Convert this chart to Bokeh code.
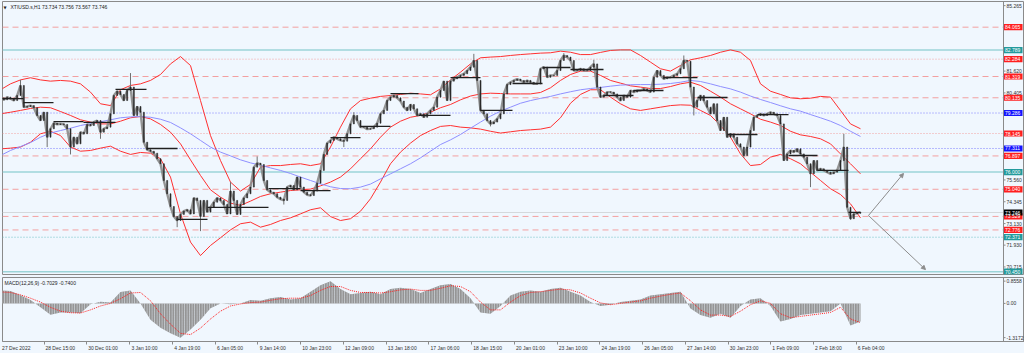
import numpy as np
from bokeh.plotting import figure
from bokeh.layouts import column
from bokeh.models import (Range1d, FixedTicker, Span, Label, Arrow, NormalHead,
                          LinearAxis)
from bokeh.core.properties import value
from bokeh.embed import file_html
from bokeh.resources import INLINE

# ---------------- data ----------------
closes_part1 = [
    80.13, 80.02, 80.17, 80.08, 79.98, 80.26, 80.82, 79.61, 79.65, 79.70,
    79.58, 79.15, 78.87, 79.33, 77.94, 78.41, 78.72, 78.65, 78.68, 78.65,
    78.41, 77.39, 77.94, 77.57, 78.22, 78.13, 78.65, 78.59, 78.78, 78.87,
    78.22, 78.41, 78.50, 79.24, 80.26, 80.50, 80.32, 79.98, 80.54, 80.73,
    79.15, 79.65, 79.33, 77.66, 77.24, 77.16, 77.05, 76.74, 76.46, 75.53,
    74.79, 74.08, 73.52, 73.30, 73.64, 73.82, 73.90, 73.67, 74.56, 74.42,
    73.52, 74.42, 73.77, 74.04, 74.32, 74.56, 74.42, 74.19, 73.67, 74.94,
    74.42, 73.64, 74.19, 74.56, 74.79, 75.16, 76.27, 76.49, 76.42, 75.53,
    75.01, 74.88, 74.79, 74.60, 74.49, 74.42, 75.16, 75.25, 75.01, 75.72,
    75.16, 74.88, 74.73, 74.69, 74.94, 75.38, 76.09, 76.98, 77.61, 77.76,
    77.94, 77.85, 77.76, 77.72, 78.13, 78.68, 79.15, 78.87, 78.50, 78.50,
    78.39, 78.41, 78.50, 78.72, 79.24, 79.43, 79.98, 80.17, 80.26, 80.13,
    79.95, 79.61, 79.43, 79.76, 79.52, 79.15, 79.24, 79.05, 79.24, 79.43]
closes_part2 = [
    79.61, 80.17, 80.54, 81.06, 79.98, 81.06, 81.19, 81.28, 81.38, 81.47,
    81.65, 81.84, 82.21, 81.10, 79.43, 79.24, 78.87, 78.68, 78.78, 78.96,
    79.24, 80.35, 80.87, 81.00, 81.10, 81.17, 81.10, 81.00, 81.10, 81.00,
    80.91, 80.91, 81.75, 81.84, 81.28, 81.38, 81.38, 81.65, 82.21, 82.49,
    82.40, 82.21, 81.65, 81.65, 81.75, 81.65, 81.65, 81.84, 82.02, 80.73,
    80.17, 80.26, 80.45, 80.45, 80.35, 80.17, 79.98, 80.26, 80.17, 80.54,
    80.45, 80.54, 80.54, 80.63, 80.54, 80.45, 81.28, 81.65, 81.38, 81.19,
    81.28, 81.28, 81.38, 81.47, 81.75, 82.21, 82.17, 80.73, 79.61, 79.98,
    80.26, 79.98, 79.61, 79.24, 79.80, 78.87, 78.31, 79.05, 77.94, 78.13,
    77.94, 77.57, 77.39, 76.92, 77.39, 78.31, 79.05, 79.15, 79.24, 79.15,
    79.24, 79.33, 79.24, 79.15, 78.68, 76.64, 77.01, 77.20, 77.11, 77.29,
    77.01, 76.83, 76.46, 75.90, 76.64, 76.09, 76.18, 76.09, 75.99, 75.90,
    75.99, 76.09, 76.64, 77.39, 74.04, 73.40, 73.67, 73.71, 73.75]

wick_sample = [6, 14, 21, 30, 39, 53, 60, 69, 77, 85, 103, 106, 142, 147,
               169, 178, 205, 208, 223, 243, 253, 255]
wick_price = [81.13, 77.39, 76.98, 77.85, 81.51, 72.93, 72.71, 75.44, 76.87,
              74.19, 77.39, 79.33, 82.58, 78.54, 82.62, 82.25, 82.49, 79.15,
              76.79, 75.16, 78.13, 73.34]

bb_upper = [
    80.58, 80.91, 81.13, 81.25, 81.13, 81.06, 81.10, 81.06, 80.91, 80.45,
    79.80, 79.70, 80.58, 80.82, 80.91, 81.10, 81.43, 82.02, 82.43, 81.93,
    79.98, 78.03, 76.64, 75.44, 74.94, 75.31, 76.27, 76.36, 76.36, 76.42,
    76.46, 76.36, 76.46, 77.39, 78.50, 79.52, 79.98, 80.11, 80.21, 80.26,
    80.32, 80.39, 80.35, 80.30,
    80.63, 81.13, 81.56, 82.02, 82.36, 82.40, 82.43, 82.49, 82.54, 82.58,
    82.62, 82.64, 82.73, 82.67, 82.54, 82.54, 82.66, 82.77, 82.80, 82.80,
    82.49, 82.12, 81.75, 81.62, 81.93, 82.25, 82.36, 82.49, 82.67, 82.80,
    82.67, 82.21, 80.91, 80.50, 80.32, 80.13, 80.08, 80.11, 80.21, 80.17,
    79.43, 78.68, 78.41]
bb_middle = [
    79.24, 79.33, 79.43, 79.54, 79.61, 79.58, 79.37, 79.15, 78.91, 78.78,
    78.68, 78.68, 78.83, 79.02, 79.09, 78.96, 78.65, 78.22, 77.57, 76.68,
    75.81, 75.01, 74.60, 74.27, 74.14, 74.38, 74.64, 74.79, 74.88, 74.97,
    75.01, 75.05, 75.23, 75.44, 75.72, 76.18, 76.74, 77.29, 77.94, 78.50,
    78.83, 79.05, 79.15, 79.33,
    79.58, 79.76, 80.02, 80.23, 80.35, 80.39, 80.37, 80.35, 80.35, 80.35,
    80.43, 80.69, 81.10, 81.43, 81.62, 81.62, 81.38, 81.10, 80.95, 80.80,
    80.73, 80.65, 80.65, 80.76, 80.91, 81.00, 80.82, 80.50, 80.17, 79.80,
    79.52, 79.24, 78.94, 78.78, 78.59, 78.27, 78.07, 77.98, 77.85, 77.57,
    77.01, 76.46, 75.90]
bb_lower = [
    77.29, 77.33, 77.39, 77.66, 78.13, 78.27, 78.03, 77.39, 77.16, 77.20,
    77.33, 77.44, 77.16, 76.98, 77.09, 77.05, 76.74, 75.72, 73.67, 72.10,
    71.35, 71.91, 72.34, 72.78, 73.12, 73.21, 72.93, 73.08, 73.30, 73.45,
    73.67, 73.90, 74.01, 73.52, 73.30, 73.40, 73.82, 74.51, 75.44, 76.46,
    77.11, 77.61, 78.03, 78.31,
    78.54, 78.59, 78.50, 78.46, 78.39, 78.27, 78.17, 78.24, 78.31, 78.35,
    78.39, 78.50, 79.02, 79.83, 80.32, 80.58, 80.58, 80.17, 79.80, 79.52,
    79.43, 79.52, 79.61, 79.70, 79.74, 79.72, 79.43, 79.15, 78.59, 77.94,
    77.01, 76.36, 76.42, 76.83, 76.98, 76.74, 76.46, 75.99, 75.53, 75.07,
    74.75, 74.23, 73.45]
ma_slow = [
    76.92, 77.20, 77.42, 77.64, 77.94, 78.17, 78.31, 78.44, 78.59, 78.70,
    78.80, 78.91, 79.02, 79.07, 79.09, 79.05, 78.94, 78.76, 78.46, 78.13,
    77.76, 77.39, 77.11, 76.90, 76.68, 76.51, 76.38, 76.23, 76.09, 75.92,
    75.72, 75.53, 75.34, 75.18, 75.08, 75.07, 75.16, 75.33, 75.62, 75.90,
    76.18, 76.46, 76.79, 77.16,
    77.53, 77.79, 78.09, 78.44, 78.78, 79.11, 79.39, 79.61, 79.83, 79.98,
    80.10, 80.21, 80.35, 80.47, 80.58, 80.65, 80.71, 80.78, 80.84, 80.86,
    80.87, 80.87, 80.89, 80.93, 81.00, 81.10, 81.04, 80.91, 80.76, 80.63,
    80.45, 80.23, 80.04, 79.87, 79.69, 79.52, 79.39, 79.20, 79.02, 78.83,
    78.59, 78.27, 77.98]
macd_hist = [
    0.50, 0.48, 0.31, 0.13, -0.15, -0.44, -0.35, -0.35, -0.38, -0.03,
    0.06, 0.03, 0.44, 0.50, 0.00, -0.63, -0.94, -1.15, -1.3172, -1.00,
    -0.63, -0.19, 0.00, -0.03, 0.00, 0.13, 0.10, 0.20, 0.25, 0.15,
    0.20, 0.45, 0.70, 0.8558, 0.55, 0.35, 0.40, 0.45, 0.35, 0.55,
    0.60, 0.55, 0.40, 0.55, 0.70, 0.75, 0.55, 0.20, -0.35, -0.40,
    -0.10, 0.30, 0.45, 0.50, 0.45, 0.55, 0.60, 0.45, 0.30, 0.05,
    -0.10, -0.05, 0.05, 0.10, 0.15, 0.30, 0.35, 0.40, 0.45, -0.20,
    -0.45, -0.55, -0.40, -0.55, -0.10, 0.15, 0.20, -0.10, -0.70, -0.60,
    -0.45, -0.40, -0.35, -0.30, 0.00, -0.85, -0.70]
macd_signal = [
    0.44, 0.42, 0.33, 0.20, 0.05, -0.15, -0.30, -0.36, -0.37, -0.25,
    -0.10, 0.00, 0.18, 0.40, 0.42, 0.10, -0.40, -0.80, -1.15, -1.20,
    -0.95, -0.60, -0.30, -0.10, -0.02, 0.03, 0.05, 0.12, 0.18, 0.20,
    0.20, 0.30, 0.50, 0.65, 0.65, 0.50, 0.42, 0.42, 0.40, 0.45,
    0.52, 0.55, 0.50, 0.50, 0.58, 0.68, 0.65, 0.45, 0.05, -0.25,
    -0.25, 0.05, 0.30, 0.42, 0.45, 0.50, 0.55, 0.52, 0.40, 0.20,
    0.02, -0.05, 0.00, 0.05, 0.10, 0.20, 0.28, 0.35, 0.40, 0.10,
    -0.25, -0.45, -0.45, -0.50, -0.30, -0.05, 0.10, 0.00, -0.40, -0.55,
    -0.50, -0.45, -0.40, -0.35, -0.15, -0.60, -0.74]

day_start = [0.3, 6.9, 15.9, 24.9, 34.5, 43.8, 53.1, 62.1, 72.0, 80.4, 90.0,
             99.0, 108.0, 117.0, 125.4, 135.0, 144.0, 153.6, 162.6, 171.0,
             180.9, 189.9, 198.9, 209.1, 218.1, 227.1, 236.4, 245.1, 254.4]
day_open = [80.09, 79.87, 78.81, 78.76, 80.60, 77.31, 73.36, 74.03, 74.03,
            75.08, 74.97, 77.92, 78.54, 80.37, 79.15, 81.26, 79.43, 80.93,
            81.82, 81.71, 80.26, 80.54, 81.26, 80.15, 78.09, 79.20, 76.92,
            76.09, 73.75]

levels = [84.065, 82.789, 82.284, 81.319, 80.135, 79.286, 78.145, 77.311,
          76.897, 76.000, 75.040, 73.529, 72.776, 72.371, 70.450, 73.746]
level_kind = ['rdash', 'teal', 'rdot', 'rdash', 'rdash', 'bdot', 'rdot', 'bdot',
              'rdash', 'teal', 'rdash', 'rdash', 'rdash', 'tdot', 'teal', 'cur']
price_ticks = [85.265, 81.620, 80.405, 75.560, 74.345, 73.130, 71.930, 70.715]
macd_ticks = [0.8558, 0.0, -1.3172]
macd_tick_text = ["0.8558", "0.00", "-1.3172"]

time_labels = ["27 Dec 2022", "28 Dec 15:00", "30 Dec 01:00", "3 Jan 10:00",
               "4 Jan 19:00", "6 Jan 05:00", "9 Jan 14:00", "10 Jan 23:00",
               "12 Jan 09:00", "13 Jan 18:00", "17 Jan 06:00", "18 Jan 15:00",
               "20 Jan 01:00", "23 Jan 10:00", "24 Jan 19:00", "26 Jan 05:00",
               "27 Jan 14:00", "30 Jan 23:00", "1 Feb 09:00", "2 Feb 18:00",
               "6 Feb 04:00"]

arrow_start = (260.4, 73.58)
arrow_end_x = [270.9, 277.5]
arrow_end_y = [75.92, 70.57]

# ---------------- styling / layout ----------------
BG = "#F0F7FE"
FONT = "Liberation Sans"
RED_L = "#F3A0A0"
AX = "#8A8A8A"
STYLE = {
    'rdash': dict(line_color=RED_L, line_dash="6 4", line_width=1),
    'rdot': dict(line_color=RED_L, line_dash="1 2", line_width=1),
    'bdot': dict(line_color="#7C7CFF", line_dash="1 2", line_width=1),
    'teal': dict(line_color="#9CD4D8", line_dash="solid", line_width=1.5),
    'tdot': dict(line_color="#6FC2C6", line_dash="1 2", line_width=1),
    'cur': dict(line_color="#D4D8DC", line_dash="solid", line_width=1),
}
BOX = {'rdash': "#FF1E1E", 'rdot': "#FF1E1E", 'bdot': "#1414FF",
       'teal': "#239A9C", 'tdot': "#239A9C", 'cur': "#000000"}

PX = 3.3333            # pixels per sample
X0 = 2 / PX            # left frame edge
XB = 1003 / PX         # right border of the price panes
XM = 1024 / PX         # right edge of canvas
Y0, Y1 = 70.295, 85.495
PPY = 17.96            # pixels per price unit
MY0, MY1 = -1.466, 0.996
W = 1024

closes = closes_part1 + closes_part2
n = len(closes)
xs = np.arange(n)
opens = [closes[0]] + closes[:-1]
top = np.maximum(opens, closes)
bot = np.minimum(opens, closes)
bx = np.arange(len(bb_upper)) * 3


def txt(fig, x, y, labels, color, size="5px", align="left"):
    fig.text(x=x, y=y, text=labels, text_font=value(FONT),
             text_font_size=value(size), text_color=color,
             text_baseline="middle", text_align=align)


# ---------------- main price pane ----------------
p = figure(width=W, height=275, output_backend="svg", toolbar_location=None,
           x_range=Range1d(X0, XM), y_range=Range1d(Y0, Y1),
           x_axis_location=None, y_axis_location=None,
           min_border_left=2, min_border_right=0, min_border_top=1,
           min_border_bottom=1)
p.background_fill_color = BG
p.border_fill_color = BG
p.outline_line_color = AX
p.grid.visible = False

for v, k in zip(levels, level_kind):
    p.segment(x0=X0, x1=XB, y0=v, y1=v, **STYLE[k])

p.line(bx, bb_upper, line_color="#FF3030", line_width=1)
p.line(bx, bb_middle, line_color="#FF3030", line_width=1)
p.line(bx, bb_lower, line_color="#FF3030", line_width=1)
p.line(bx, ma_slow, line_color="#8F8FFF", line_width=1)

p.line(xs, closes, line_color="#8A8A8A", line_width=2.4, line_alpha=0.9)
wick_base = [closes[i] for i in wick_sample]
p.segment(x0=wick_sample, y0=wick_base, x1=wick_sample, y1=wick_price,
          line_color="#707070", line_width=1)
p.vbar(x=xs, top=top, bottom=bot, width=0.3, fill_color="#2A2A2A",
       line_color="#2A2A2A", line_width=0.6)

day_end = day_start[1:] + [n - 1]
p.segment(x0=day_start, y0=day_open, x1=day_end, y1=day_open,
          line_color="#202020", line_width=1.3)

head = dict(size=4, line_color="#8C8C8C", fill_color="#8C8C8C")
for ex, ey in zip(arrow_end_x, arrow_end_y):
    p.add_layout(Arrow(end=NormalHead(**head), x_start=arrow_start[0],
                       y_start=arrow_start[1], x_end=ex, y_end=ey,
                       line_color="#8C8C8C", line_width=1))

# price scale at the right border
p.add_layout(Span(location=XB, dimension="height", line_color=AX, line_width=1))
p.segment(x0=XB, x1=XB + 2 / PX, y0=price_ticks, y1=price_ticks,
          line_color=AX, line_width=1)
txt(p, XB + 3 / PX, price_ticks, [f"{v:.3f}" for v in price_ticks], "#303030")
box_h = 3.1 / PPY
p.quad(left=XB, right=XB + 19 / PX, top=[v + box_h for v in levels],
       bottom=[v - box_h for v in levels],
       fill_color=[BOX[k] for k in level_kind], line_color=None)
txt(p, XB + 1.5 / PX, levels, [f"{v:.3f}" for v in levels], "white")

p.add_layout(Label(x=X0 + 8 / PX, y=Y1 - 5.5 / PPY,
                   text="XTIUSD.s,H1  73.734 73.756 73.567 73.746",
                   text_font=FONT, text_font_size="5px", text_color="#202020",
                   text_baseline="middle"))
p.add_layout(Label(x=X0 + 1.0 / PX, y=Y1 - 5.5 / PPY, text="▼",
                   text_font="DejaVu Sans", text_font_size="4px",
                   text_color="#202020", text_baseline="middle"))

# ---------------- MACD pane ----------------
m = figure(width=W, height=78, output_backend="svg", toolbar_location=None,
           x_range=Range1d(X0, XM), y_range=Range1d(MY0, MY1),
           y_axis_location=None,
           min_border_left=2, min_border_right=0, min_border_top=2,
           min_border_bottom=11)
m.background_fill_color = BG
m.border_fill_color = BG
m.outline_line_color = AX
m.grid.visible = False

m.varea(x=bx, y1=0, y2=macd_hist, fill_color="#959595", fill_alpha=1.0,
        hatch_pattern="vertical_line", hatch_color="#E6EEF6", hatch_scale=2.5,
        hatch_weight=0.6)
m.line(bx, macd_signal, line_color="#FF2020", line_dash="1 1", line_width=1)

m.add_layout(Label(x=X0 + 2 / PX, y=MY1 - 6 / 26.5,
                   text="MACD(12,26,9) -0.7029 -0.7400", text_font=FONT,
                   text_font_size="5px", text_color="#202020",
                   text_baseline="middle"))

# MACD scale at the right border
m.add_layout(Span(location=XB, dimension="height", line_color=AX, line_width=1))
m.segment(x0=XB, x1=XB + 2 / PX, y0=macd_ticks, y1=macd_ticks,
          line_color=AX, line_width=1)
txt(m, XB + 3 / PX, macd_ticks, macd_tick_text, "#303030")

# time axis: tick marks on one axis, left-aligned labels on a second one
tick_pos = [round(0.3 + 12.823 * k, 2) for k in range(len(time_labels))]
xax = m.xaxis[0]
xax.ticker = FixedTicker(ticks=tick_pos)
xax.major_label_overrides = {t: "" for t in tick_pos}
xax.major_label_text_font_size = "1px"
xax.major_tick_out = 3
xax.major_tick_in = 0
xax.minor_tick_out = 0
xax.minor_tick_in = 0
xax.major_label_standoff = 0
xax.axis_line_color = AX
xax.major_tick_line_color = AX

CHAR = 2.42
lab_pos = [round(t + (1.5 + len(s) * CHAR / 2) / PX, 2)
           for t, s in zip(tick_pos, time_labels)]
xlab = LinearAxis(ticker=FixedTicker(ticks=lab_pos),
                  major_label_overrides=dict(zip(lab_pos, time_labels)),
                  major_label_text_font_size="5px", major_label_text_font=FONT,
                  major_label_text_color="#303030", major_tick_out=0,
                  major_tick_in=0, minor_tick_out=0, minor_tick_in=0,
                  major_label_standoff=0, axis_line_color=None)
m.add_layout(xlab, "below")

layout = column(p, m, spacing=0)
layout.styles = {"background-color": BG}
open("out.html", "w").write(file_html(layout, INLINE))
